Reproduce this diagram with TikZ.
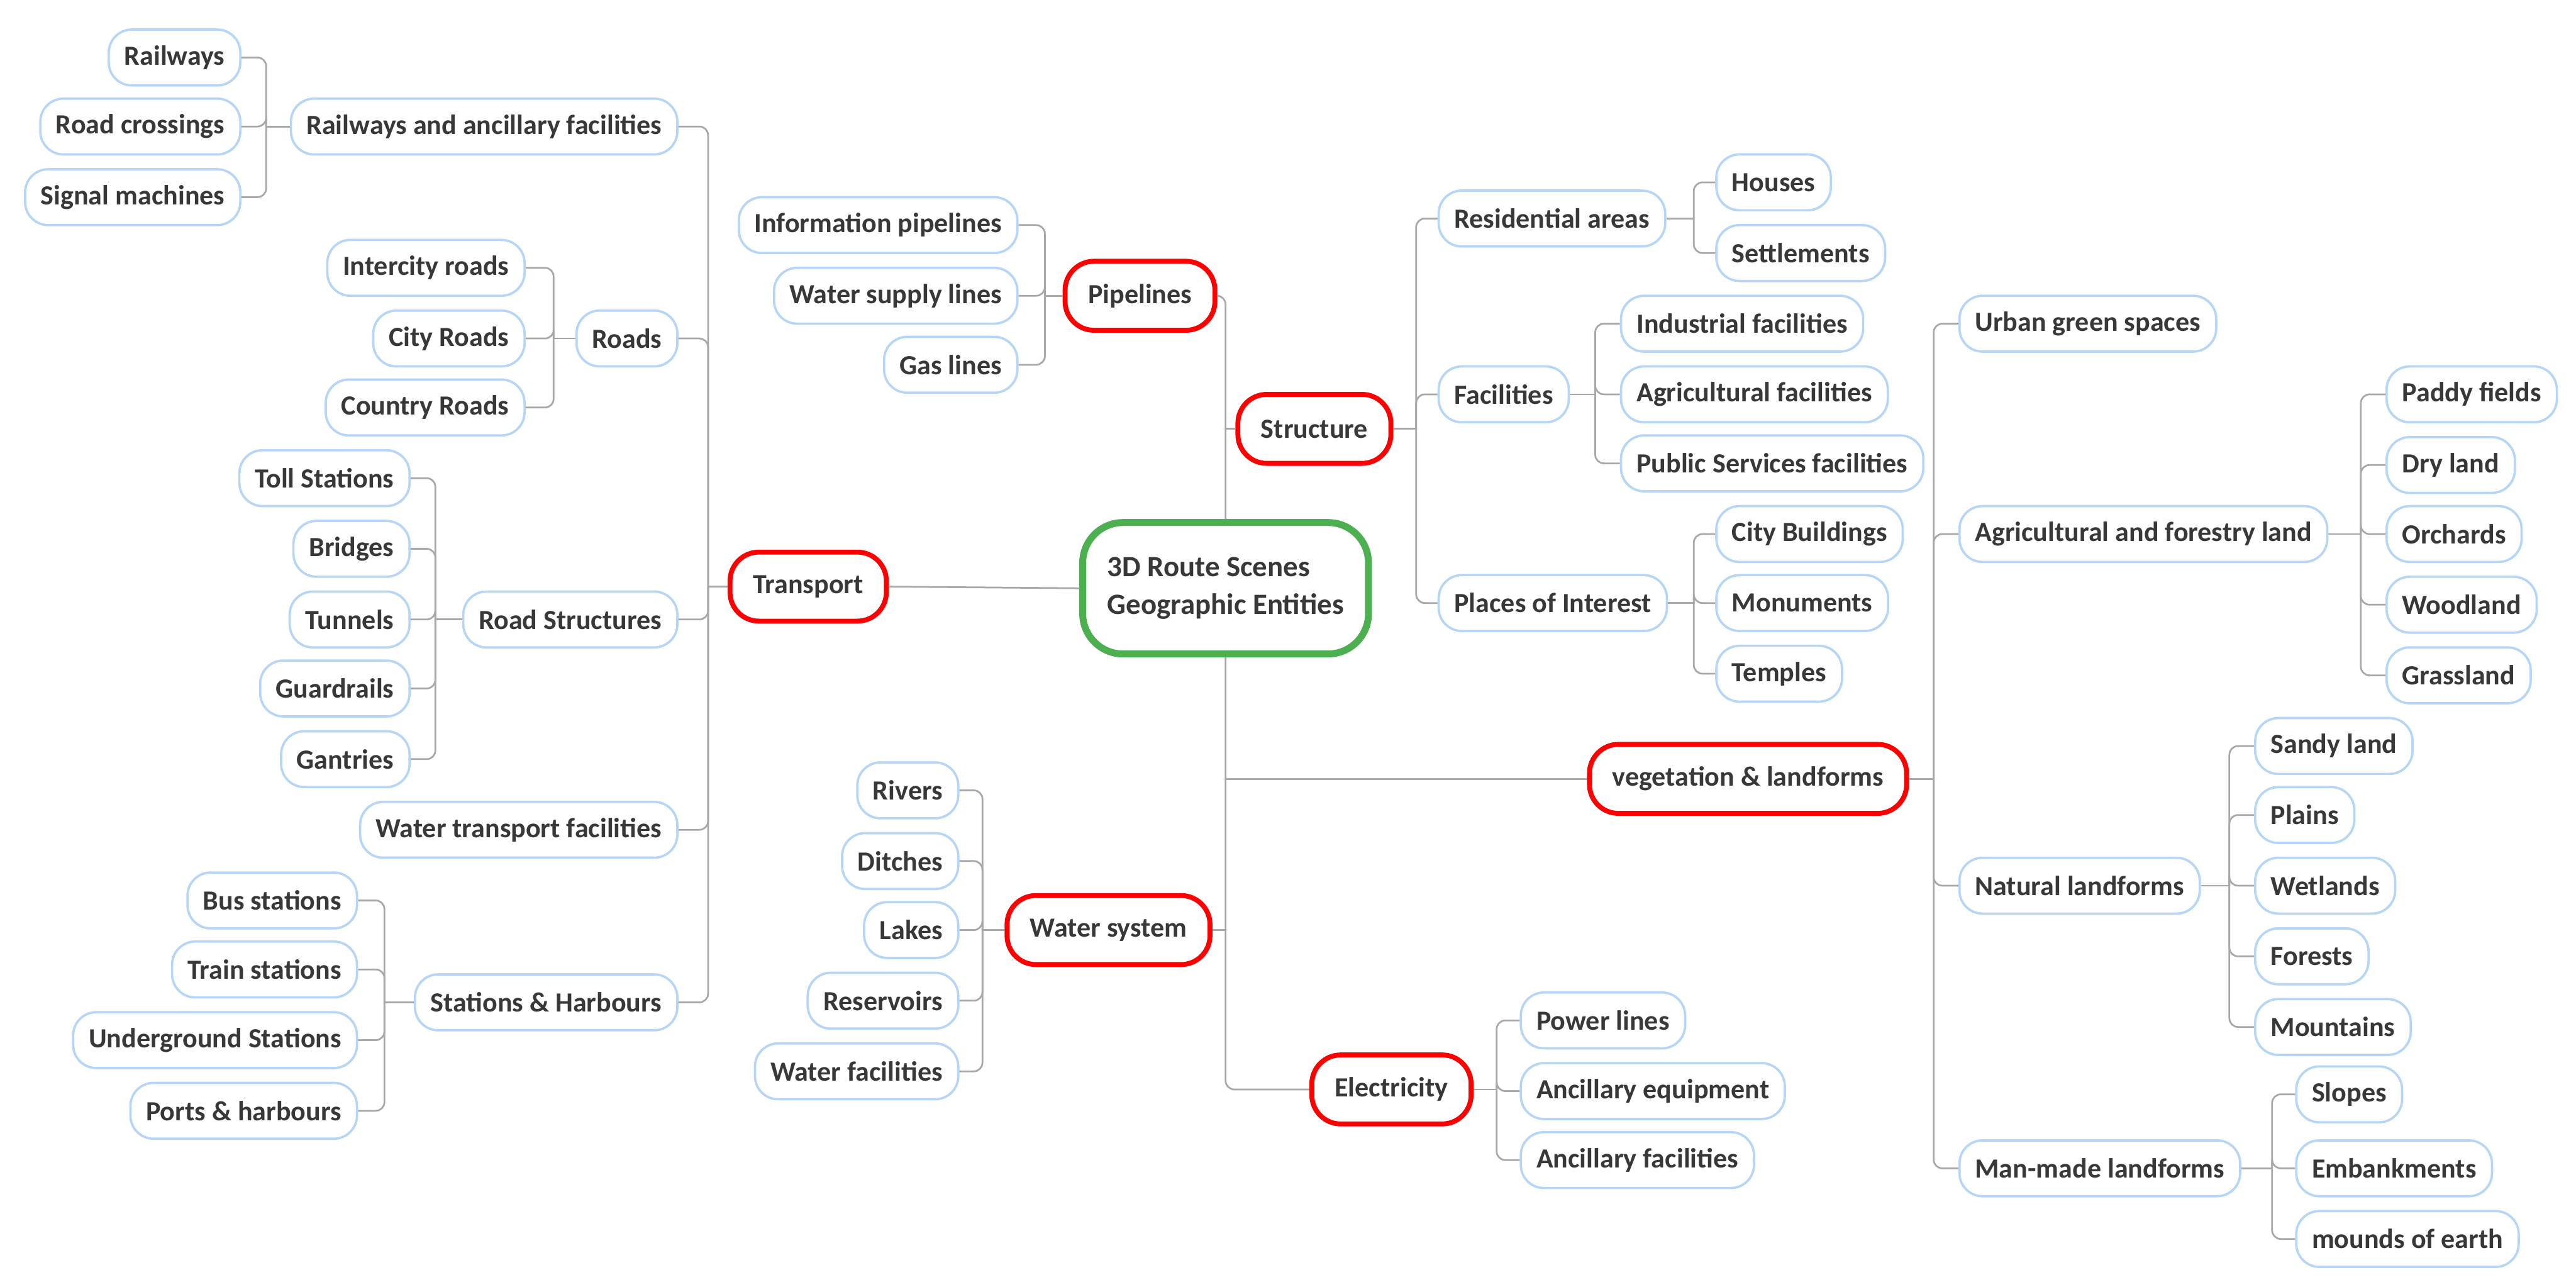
\documentclass[tikz,border=0pt]{standalone}
\usepackage{fontspec}
\setmainfont{Carlito}
\usepackage{tikz}
\usetikzlibrary{positioning}
\definecolor{inkgray}{HTML}{383838}
\definecolor{leafblue}{HTML}{B6D6F8}
\definecolor{topicred}{HTML}{FF0000}
\definecolor{rootgreen}{HTML}{4CAF50}
\definecolor{wiregray}{HTML}{A8A8A8}

\begin{document}
\begin{tikzpicture}[x=0.02cm, y=-0.02cm,
  leaf/.style={draw=leafblue, line width=0.8pt, rounded corners=8pt, fill=white,
    text=inkgray, font=\fontsize{9.6}{11}\selectfont\bfseries,
    minimum height=0.68cm, inner xsep=0.19cm, inner ysep=0pt},
  topic/.style={leaf, draw=topicred, line width=1.7pt, minimum height=0.84cm,
    inner xsep=0.28cm, rounded corners=10pt},
  root/.style={leaf, draw=rootgreen, line width=2.4pt, minimum width=3.48cm,
    minimum height=1.6cm, align=left, rounded corners=14pt,
    font=\fontsize{10.2}{13}\selectfont\bfseries},
  wire/.style={draw=wiregray, line width=0.6pt, rounded corners=3pt}]
  \useasboundingbox (0,0) rectangle (1568,783);

  % centre and main topics
  \node[root] (root) at (746,358) {3D Route Scenes\\Geographic Entities};
  \node[topic, anchor=east] (transport) at (541,357) {Transport};
  \node[topic, anchor=east] (pipes) at (741,180) {Pipelines};
  \node[topic, anchor=west] (structure) at (752,261) {Structure};
  \node[topic, anchor=west] (veg) at (966,474) {vegetation \& landforms};
  \node[topic, anchor=east] (water) at (738,566) {Water system};
  \node[topic, anchor=west] (elec) at (797,663) {Electricity};
  \draw[wire] (root.west) -- (transport.east);
  \draw[wire] (pipes.east) -| (root.north);
  \draw[wire] (root.south) |- (elec.west);
  \draw[wire] (root.north |- structure.west) -- (structure.west);
  \draw[wire] (root.south |- veg.west) -- (veg.west);
  \draw[wire] (root.south |- water.east) -- (water.east);

  % transport
  \coordinate (transportbus) at (431,357);
  \draw[wire] (transport.west) -- (transportbus);
  \foreach \id/\y/\txt in {rail/77/Railways and ancillary facilities,
      roads/206/Roads, roadstruct/377/Road Structures,
      watertrans/505/Water transport facilities, stations/610/Stations \& Harbours} {
    \node[leaf, anchor=east] (\id) at (413,\y) {\txt};
    \draw[wire] (transportbus) |- (\id.east);
  }
  \coordinate (railbus) at (162,77);
  \draw[wire] (rail.west) -- (railbus);
  \foreach \id/\y/\txt in {railways/35/Railways, crossings/77/Road crossings,
      signals/120/Signal machines} {
    \node[leaf, anchor=east] (\id) at (147,\y) {\txt};
    \draw[wire] (railbus) |- (\id.east);
  }
  \coordinate (roadsbus) at (337,206);
  \draw[wire] (roads.west) -- (roadsbus);
  \foreach \id/\y/\txt in {intercity/163/Intercity roads, cityroads/206/City Roads,
      countryroads/248/Country Roads} {
    \node[leaf, anchor=east] (\id) at (320,\y) {\txt};
    \draw[wire] (roadsbus) |- (\id.east);
  }
  \coordinate (roadstructbus) at (265,377);
  \draw[wire] (roadstruct.west) -- (roadstructbus);
  \foreach \id/\y/\txt in {toll/291/Toll Stations, bridges/334/Bridges,
      tunnels/377/Tunnels, guardrails/419/Guardrails, gantries/462/Gantries} {
    \node[leaf, anchor=east] (\id) at (250,\y) {\txt};
    \draw[wire] (roadstructbus) |- (\id.east);
  }
  \coordinate (stationsbus) at (234,610);
  \draw[wire] (stations.west) -- (stationsbus);
  \foreach \id/\y/\txt in {bus/548/Bus stations, train/590/Train stations,
      underground/633/Underground Stations, ports/676/Ports \& harbours} {
    \node[leaf, anchor=east] (\id) at (218,\y) {\txt};
    \draw[wire] (stationsbus) |- (\id.east);
  }

  % pipelines
  \coordinate (pipesbus) at (636,180);
  \draw[wire] (pipes.west) -- (pipesbus);
  \foreach \id/\y/\txt in {infopipes/137/Information pipelines,
      watersupply/180/Water supply lines, gaslines/222/Gas lines} {
    \node[leaf, anchor=east] (\id) at (620,\y) {\txt};
    \draw[wire] (pipesbus) |- (\id.east);
  }

  % structure
  \coordinate (structurebus) at (862,261);
  \draw[wire] (structure.east) -- (structurebus);
  \foreach \id/\y/\txt in {residential/133/Residential areas,
      facilities/240/Facilities, interest/367/Places of Interest} {
    \node[leaf, anchor=west] (\id) at (875,\y) {\txt};
    \draw[wire] (structurebus) |- (\id.west);
  }
  \coordinate (residentialbus) at (1031,133);
  \draw[wire] (residential.east) -- (residentialbus);
  \foreach \id/\y/\txt in {houses/111/Houses, settlements/154/Settlements} {
    \node[leaf, anchor=west] (\id) at (1044,\y) {\txt};
    \draw[wire] (residentialbus) |- (\id.west);
  }
  \coordinate (facilitiesbus) at (971,240);
  \draw[wire] (facilities.east) -- (facilitiesbus);
  \foreach \id/\y/\txt in {industrial/197/Industrial facilities,
      agricultural/240/Agricultural facilities, public/282/Public Services facilities} {
    \node[leaf, anchor=west] (\id) at (986,\y) {\txt};
    \draw[wire] (facilitiesbus) |- (\id.west);
  }
  \coordinate (interestbus) at (1031,367);
  \draw[wire] (interest.east) -- (interestbus);
  \foreach \id/\y/\txt in {citybuildings/325/City Buildings,
      monuments/367/Monuments, temples/410/Temples} {
    \node[leaf, anchor=west] (\id) at (1044,\y) {\txt};
    \draw[wire] (interestbus) |- (\id.west);
  }

  % vegetation and landforms
  \coordinate (vegbus) at (1177,474);
  \draw[wire] (veg.east) -- (vegbus);
  \foreach \id/\y/\txt in {urbangreen/197/Urban green spaces,
      agriforest/325/Agricultural and forestry land,
      natural/539/Natural landforms, manmade/711/Man-made landforms} {
    \node[leaf, anchor=west] (\id) at (1192,\y) {\txt};
    \draw[wire] (vegbus) |- (\id.west);
  }
  \coordinate (agriforestbus) at (1437,325);
  \draw[wire] (agriforest.east) -- (agriforestbus);
  \foreach \id/\y/\txt in {paddy/240/Paddy fields, dryland/283/Dry land,
      orchards/325/Orchards, woodland/368/Woodland, grassland/411/Grassland} {
    \node[leaf, anchor=west] (\id) at (1452,\y) {\txt};
    \draw[wire] (agriforestbus) |- (\id.west);
  }
  \coordinate (naturalbus) at (1357,539);
  \draw[wire] (natural.east) -- (naturalbus);
  \foreach \id/\y/\txt in {sandy/454/Sandy land, plains/496/Plains,
      wetlands/539/Wetlands, forests/582/Forests, mountains/625/Mountains} {
    \node[leaf, anchor=west] (\id) at (1372,\y) {\txt};
    \draw[wire] (naturalbus) |- (\id.west);
  }
  \coordinate (manmadebus) at (1383,711);
  \draw[wire] (manmade.east) -- (manmadebus);
  \foreach \id/\y/\txt in {slopes/666/Slopes, embankments/711/Embankments,
      mounds/754/mounds of earth} {
    \node[leaf, anchor=west] (\id) at (1397,\y) {\txt};
    \draw[wire] (manmadebus) |- (\id.west);
  }

  % water system
  \coordinate (waterbus) at (598,566);
  \draw[wire] (water.west) -- (waterbus);
  \foreach \id/\y/\txt in {rivers/481/Rivers, ditches/524/Ditches,
      lakes/566/Lakes, reservoirs/609/Reservoirs, waterfac/652/Water facilities} {
    \node[leaf, anchor=east] (\id) at (584,\y) {\txt};
    \draw[wire] (waterbus) |- (\id.east);
  }

  % electricity
  \coordinate (elecbus) at (911,663);
  \draw[wire] (elec.east) -- (elecbus);
  \foreach \id/\y/\txt in {powerlines/621/Power lines,
      equipment/664/Ancillary equipment, ancfac/706/Ancillary facilities} {
    \node[leaf, anchor=west] (\id) at (925,\y) {\txt};
    \draw[wire] (elecbus) |- (\id.west);
  }
\end{tikzpicture}
\end{document}
